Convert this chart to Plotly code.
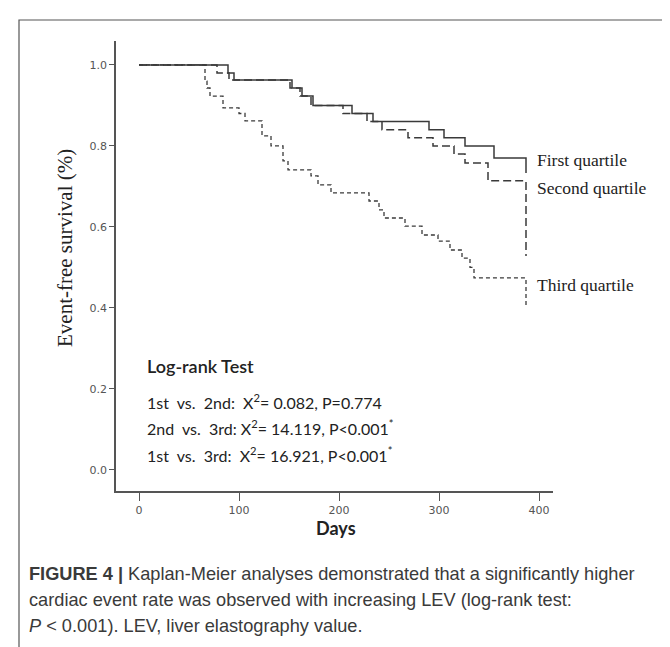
import plotly.graph_objects as go

# ---- data ----
q1_days = [0, 89, 95, 153, 163, 174, 213, 234, 290, 305, 326, 355, 387]
q1_surv = [1.0, 0.98, 0.963, 0.943, 0.923, 0.90, 0.88, 0.86, 0.84, 0.82, 0.80, 0.77, 0.733]

q2_days = [0, 78, 90, 151, 161, 172, 204, 228, 243, 269, 294, 315, 326, 349, 387]
q2_surv = [1.0, 0.98, 0.963, 0.943, 0.923, 0.90, 0.88, 0.86, 0.84, 0.82, 0.80, 0.78, 0.758, 0.714, 0.528]

q3_days = [0, 66, 68, 71, 84, 100, 106, 123, 132, 144, 149, 172, 179, 192, 230, 240, 245, 266,
           283, 299, 311, 323, 331, 335, 387]
q3_surv = [1.0, 0.96, 0.943, 0.923, 0.894, 0.88, 0.862, 0.825, 0.80, 0.763, 0.741, 0.726, 0.704, 0.684,
           0.664, 0.642, 0.622, 0.602, 0.580, 0.565, 0.543, 0.523, 0.50, 0.474, 0.407]

group_names = ["First quartile", "Second quartile", "Third quartile"]
label_y = [0.765, 0.696, 0.457]

x_ticks = [0, 100, 200, 300, 400]
y_ticks = [0.0, 0.2, 0.4, 0.6, 0.8, 1.0]

test_title = "Log-rank Test"
test_lines = [
    "1st  vs.  2nd:  X<sup>2</sup>= 0.082, P=0.774",
    "2nd  vs.  3rd: X<sup>2</sup>= 14.119, P<0.001<sup>*</sup>",
    "1st  vs.  3rd:  X<sup>2</sup>= 16.921, P<0.001<sup>*</sup>",
]
test_y = [0.170, 0.104, 0.037]

# ---- layout geometry (pixels) ----
W, H = 670, 647
L, R, T, B = 108, 545, 33, 483


def paper(x, y):
    return (x - L) / (R - L), (B - y) / (B - T)


fig = go.Figure()
line_col = "#3a3a3a"
fig.add_trace(go.Scatter(x=q1_days, y=q1_surv, mode="lines", line_shape="hv",
                         line=dict(color=line_col, width=1.5), name=group_names[0]))
fig.add_trace(go.Scatter(x=q2_days, y=q2_surv, mode="lines", line_shape="hv",
                         line=dict(color=line_col, width=1.5, dash="8px,4px"), name=group_names[1]))
fig.add_trace(go.Scatter(x=q3_days, y=q3_surv, mode="lines", line_shape="hv",
                         line=dict(color=line_col, width=1.3, dash="4px,3px"), name=group_names[2]))

ann = []
for name, yv in zip(group_names, label_y):
    ann.append(dict(x=396, y=yv, xref="x", yref="y", text=name, showarrow=False,
                    xanchor="left", yanchor="middle",
                    font=dict(family="Liberation Serif", size=17.5, color="#222")))

ann.append(dict(x=6, y=0.257, xref="x", yref="y", text=test_title, showarrow=False,
                xanchor="left", yanchor="middle",
                font=dict(family="Lato", size=18, color="#222", weight=600)))
for t, yv in zip(test_lines, test_y):
    ann.append(dict(x=6, y=yv, xref="x", yref="y", text=t, showarrow=False,
                    xanchor="left", yanchor="middle",
                    font=dict(family="Lato", size=16, color="#222")))

# y axis title
px_, py_ = paper(57, 240)
ann.append(dict(x=px_, y=py_, xref="paper", yref="paper", text="Event-free survival (%)",
                textangle=-90, showarrow=False, xanchor="center", yanchor="middle",
                font=dict(family="Liberation Serif", size=21, color="#222")))
# x axis title
px_, py_ = paper(328, 520)
ann.append(dict(x=px_, y=py_, xref="paper", yref="paper", text="<b>Days</b>",
                showarrow=False, xanchor="center", yanchor="middle",
                font=dict(family="Lato", size=18, color="#222")))

# caption
cap = [
    "<b>FIGURE 4 |</b> Kaplan-Meier analyses demonstrated that a significantly higher",
    "cardiac event rate was observed with increasing LEV (log-rank test:",
    "<i>P</i> < 0.001). LEV, liver elastography value.",
]
for i, t in enumerate(cap):
    px_, py_ = paper(19, 566 + 26 * i)
    ann.append(dict(x=px_, y=py_, xref="paper", yref="paper", text=t, showarrow=False,
                    xanchor="left", yanchor="middle",
                    font=dict(family="Liberation Sans", size=18.2, color="#3a3a3a")))

# outer frame
x0, y0 = paper(11, 700)
x1, y1 = paper(661, 12)
shapes = [dict(type="rect", xref="paper", yref="paper", x0=x0, y0=y0, x1=x1, y1=y1,
               line=dict(color="#555", width=1.2), fillcolor="rgba(0,0,0,0)", layer="above")]

axis_col = "#555"
fig.update_layout(
    width=W, height=H, margin=dict(l=L, r=W - R, t=T, b=H - B),
    paper_bgcolor="white", plot_bgcolor="white", showlegend=False,
    annotations=ann, shapes=shapes,
    xaxis=dict(range=[-23, 414], tickvals=x_ticks, ticks="outside", ticklen=8, tickwidth=1.3,
               tickcolor=axis_col, showline=True, linecolor=axis_col, linewidth=1.6,
               showgrid=False, zeroline=False,
               tickfont=dict(family="DejaVu Sans", size=11, color="#555")),
    yaxis=dict(range=[-0.052, 1.059], tickvals=y_ticks, tickformat=".1f", ticks="outside",
               ticklen=5, tickwidth=1.3, tickcolor=axis_col, showline=True, linecolor=axis_col,
               linewidth=1.6, showgrid=False, zeroline=False,
               tickfont=dict(family="DejaVu Sans", size=11, color="#555")),
)

fig.write_html("out.html")
